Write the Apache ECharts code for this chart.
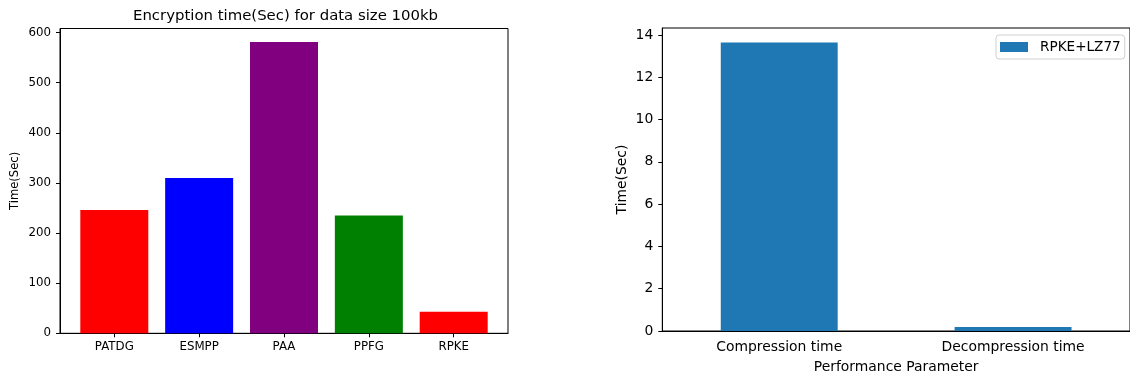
<!DOCTYPE html>
<html>
<head>
<meta charset="utf-8">
<script src="https://cdn.jsdelivr.net/npm/echarts@6/dist/echarts.min.js"></script>
<style>
  html, body { margin: 0; padding: 0; background: #fff; }
  #chart { width: 1130px; height: 379px; }
</style>
</head>
<body>
<div id="chart"></div>
<script>
// left panel: encryption time per scheme
var schemes = ['PATDG', 'ESMPP', 'PAA', 'PPFG', 'RPKE'];
var encTime = [246, 310, 581, 235, 43];
var schemeColors = ['#ff0000', '#0000ff', '#800080', '#008000', '#ff0000'];
var encTicks = [0, 100, 200, 300, 400, 500, 600];

// right panel: compression / decompression time
var params = ['Compression time', 'Decompression time'];
var compTime = [13.64, 0.19];
var compTicks = [0, 2, 4, 6, 8, 10, 12, 14];

var FONT = 'DejaVu Sans';
var myChart = echarts.init(document.getElementById('chart'));

var encData = encTime.map(function (v, i) {
    return { value: [i, v], itemStyle: { color: schemeColors[i] } };
});

var option = {
    backgroundColor: '#fff',
    animation: false,
    textStyle: { fontFamily: FONT, color: '#000' },
    title: {
        text: 'Encryption time(Sec) for data size 100kb',
        left: 128,
        top: 4,
        textStyle: { fontFamily: FONT, fontSize: 14.9, fontWeight: 'normal', color: '#000' }
    },
    legend: {
        data: ['RPKE+LZ77'],
        left: 996,
        top: 35,
        padding: [5, 4, 5, 4],
        itemWidth: 28,
        itemHeight: 10,
        icon: 'rect',
        borderColor: '#d0d0d0',
        borderWidth: 1,
        borderRadius: 3,
        backgroundColor: '#fff',
        textStyle: { fontFamily: FONT, fontSize: 13.6, color: '#000', padding: [0, 0, 0, 7] }
    },
    grid: [
        { left: 60, top: 28.5, width: 448, height: 304.8, show: true, borderColor: '#000', borderWidth: 1, containLabel: false },
        { left: 662.3, top: 28, width: 468.5, height: 305.3, show: true, borderColor: '#000', borderWidth: 1, containLabel: false }
    ],
    xAxis: [
        {
            type: 'value', gridIndex: 0, min: -0.64, max: 4.64,
            axisLine: { onZero: false, lineStyle: { color: '#000' } },
            axisTick: { length: 4, lineStyle: { color: '#000' }, customValues: [0, 1, 2, 3, 4] },
            axisLabel: {
                customValues: [0, 1, 2, 3, 4], margin: 8, fontSize: 11.8, color: '#000', fontFamily: FONT,
                formatter: function (v) { return schemes[Math.round(v)]; }
            },
            splitLine: { show: false }
        },
        {
            type: 'category', gridIndex: 1, data: params,
            name: 'Performance Parameter', nameLocation: 'middle', nameGap: 29,
            nameTextStyle: { fontFamily: FONT, fontSize: 13.9, color: '#000' },
            axisLine: { lineStyle: { color: '#000' } },
            axisTick: { length: 4, alignWithLabel: true, lineStyle: { color: '#000' } },
            axisLabel: { margin: 9, fontSize: 13.9, color: '#000', fontFamily: FONT },
            splitLine: { show: false }
        }
    ],
    yAxis: [
        {
            type: 'value', gridIndex: 0, min: 0, max: 608,
            name: 'Time(Sec)', nameLocation: 'middle', nameGap: 39,
            nameTextStyle: { fontFamily: FONT, fontSize: 11.6, color: '#000' },
            axisLine: { show: true, onZero: false, lineStyle: { color: '#000' } },
            axisTick: { show: true, length: 4, lineStyle: { color: '#000' }, customValues: encTicks },
            axisLabel: { customValues: encTicks, margin: 9, fontSize: 11.8, color: '#000', fontFamily: FONT },
            splitLine: { show: false }
        },
        {
            type: 'value', gridIndex: 1, min: 0, max: 14.33,
            name: 'Time(Sec)', nameLocation: 'middle', nameGap: 33,
            nameTextStyle: { fontFamily: FONT, fontSize: 13.9, color: '#000' },
            axisLine: { show: true, onZero: false, lineStyle: { color: '#000' } },
            axisTick: { show: true, length: 4, lineStyle: { color: '#000' }, customValues: compTicks },
            axisLabel: { customValues: compTicks, margin: 9, fontSize: 13.9, color: '#000', fontFamily: FONT },
            splitLine: { show: false }
        }
    ],
    series: [
        {
            name: 'Encryption',
            type: 'bar',
            xAxisIndex: 0, yAxisIndex: 0,
            barWidth: 68,
            data: encData
        },
        {
            name: 'RPKE+LZ77',
            type: 'bar',
            xAxisIndex: 1, yAxisIndex: 1,
            barWidth: '50%',
            itemStyle: { color: '#1f77b4' },
            data: compTime
        }
    ]
};

myChart.setOption(option);
</script>
</body>
</html>
